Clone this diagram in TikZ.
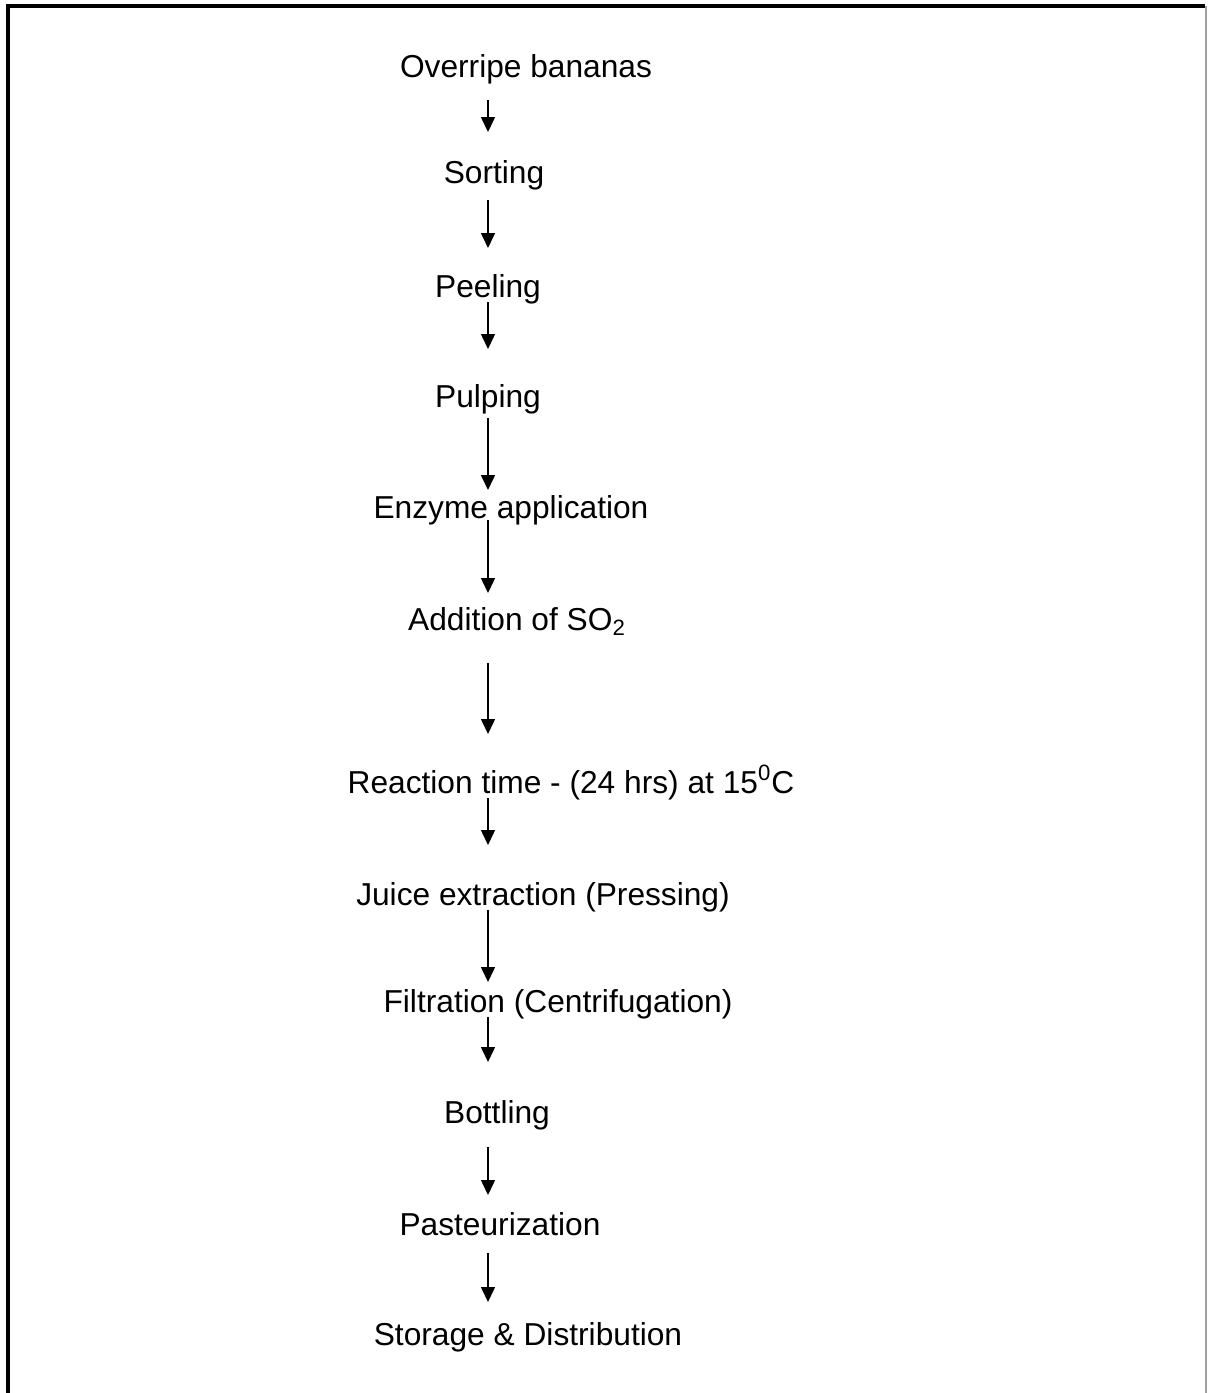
\documentclass[tikz,border=0pt]{standalone}
\usepackage{fontspec}
\setmainfont{Liberation Sans}
\usetikzlibrary{arrows.meta}

\begin{document}
\begin{tikzpicture}[
    x=0.5pt, y=-0.5pt, line cap=butt,
    stage/.style ={anchor=base, inner sep=0pt, font=\fontsize{15.85pt}{19pt}\selectfont},
    flow/.style  ={line width=0.75pt, -{Triangle[width=7pt, length=7.5pt]}},
    frame/.style ={line width=2pt, line join=miter}
]
\useasboundingbox (0,0) rectangle (1207,1393);

% outer frame (open at the bottom)
\draw[frame] (8,1393) -- (8,6) -- (1205,6);
\draw[gray!75, line width=0.75pt] (1206,6) -- (1206,1393);

% process steps (x = centre, y = baseline)
\node[stage] (ovr)   at (526,77)   {Overripe bananas};
\node[stage] (sort)  at (494,183)  {Sorting};
\node[stage] (peel)  at (488,297)  {Peeling};
\node[stage] (pulp)  at (488,407)  {Pulping};
\node[stage] (enz)   at (511,518)  {Enzyme application};
\node[stage] (so2)   at (517,630)  {Addition of SO\textsubscript{2}};
\node[stage] (react) at (571,793)  {Reaction time - (24 hrs) at 15\textsuperscript{0}C};
\node[stage] (juice) at (543,905)  {Juice extraction (Pressing)};
\node[stage] (filt)  at (558,1012) {Filtration (Centrifugation)};
\node[stage] (bott)  at (497,1123) {Bottling};
\node[stage] (past)  at (500,1235) {Pasteurization};
\node[stage] (store) at (528,1345) {Storage \& Distribution};

% arrows all run down one vertical line
\coordinate (ax) at (488,0);
\foreach \a/\b/\s/\e in {ovr/sort/11.5/25.5, sort/peel/8.5/24.5, peel/pulp/2.5/29,
    pulp/enz/5.5/14, enz/so2/1/18.5, so2/react/16.5/29.5, react/juice/2.5/30,
    juice/filt/2.5/15, filt/bott/2.5/30.5, bott/past/12/20, past/store/9/21.5}
  \draw[flow, shorten <=\s pt, shorten >=\e pt] (\a.base -| ax) -- (\b.base -| ax);
\end{tikzpicture}
\end{document}
